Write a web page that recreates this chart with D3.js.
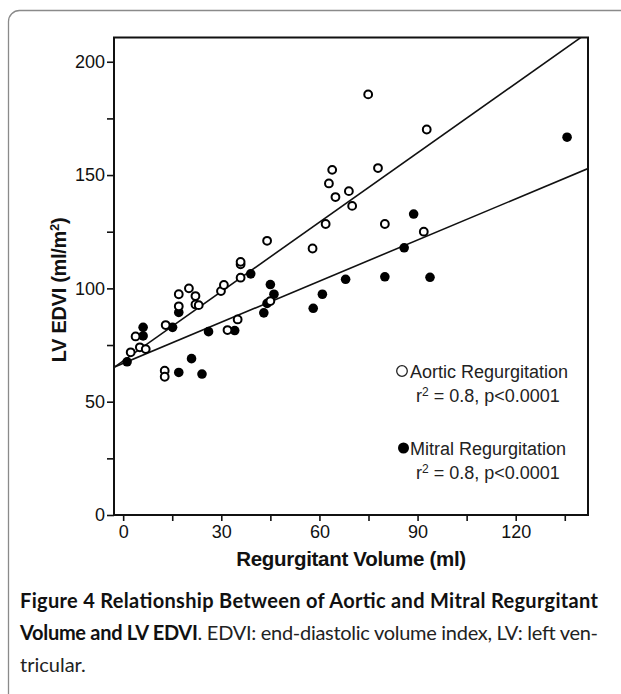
<!DOCTYPE html>
<html><head><meta charset="utf-8">
<script src="https://cdn.jsdelivr.net/npm/d3@7"></script>
<style>
html,body{margin:0;padding:0;background:#fff;}
svg{display:block;}
</style></head>
<body>
<script>
// ---- data ----
const aorticX = [2.3,3.8,5.1,6.9,12.7,12.7,13.0,17.0,17.0,20.1,22.1,22.1,23.1,29.9,30.8,31.9,35.0,35.9,35.9,35.9,44.0,45.0,57.9,61.9,62.9,63.9,64.9,69.0,70.0,74.9,77.9,80.0,91.9,92.8];
const aorticY = [71.8,78.8,74.0,73.2,63.7,61.0,83.8,97.4,92.1,100.0,96.6,92.9,92.6,98.8,101.5,81.6,86.3,104.7,110.6,111.7,121.0,94.4,117.6,128.4,146.3,152.3,140.3,142.9,136.4,185.6,153.1,128.4,125.0,170.1];
const mitralX = [1.2,6.1,6.1,15.1,17.0,17.0,20.9,24.1,26.1,34.1,39.0,43.0,44.0,45.0,46.1,58.1,60.9,68.0,80.0,85.9,88.8,93.8,135.7];
const mitralY = [67.6,82.8,79.0,82.8,89.4,62.9,69.0,62.2,80.9,81.4,106.4,89.2,93.4,101.7,97.4,91.2,97.4,104.0,105.1,117.9,132.8,104.9,166.7];
const fitNames = ["Aortic","Mitral"];
const fitIntercept = [68.0, 66.9];
const fitSlope = [1.02, 0.605];
const xTicks = [0,15,30,45,60,75,90,105,120,135];
const xTickLabels = ["0","","30","","60","","90","","120",""];
const yTicks = [0,25,50,75,100,125,150,175,200];
const yTickLabels = ["0","","50","","100","","150","","200"];
const xDomain = [-2.8, 142.1];
const yDomain = [0, 210.7];
const legendLabels = ["Aortic Regurgitation","Mitral Regurgitation"];
const legendStats = ["r\u00B2 = 0.8, p<0.0001","r\u00B2 = 0.8, p<0.0001"];

const W = 621, H = 694;
const svg = d3.select("body").append("svg").attr("width", W).attr("height", H);

// card border
svg.append("rect").attr("x", 8.5).attr("y", 10.5).attr("width", 700).attr("height", 760)
  .attr("rx", 11).attr("fill", "none").attr("stroke", "#8a8a8a").attr("stroke-width", 1.3);

const L = 114, R = 588, T = 37.5, B = 515;
const x = d3.scaleLinear().domain(xDomain).range([L, R]);
const y = d3.scaleLinear().domain(yDomain).range([B, T]);

const font = "'Liberation Sans', Arial, sans-serif";

// clip
svg.append("clipPath").attr("id","plotclip").append("rect")
  .attr("x", L).attr("y", T).attr("width", R-L).attr("height", B-T);

// regression lines
const fitG = svg.append("g").attr("clip-path","url(#plotclip)");
fitNames.forEach((n,i)=>{
  const x0 = xDomain[0], x1 = xDomain[1];
  fitG.append("line")
    .attr("x1", x(x0)).attr("y1", y(fitIntercept[i] + fitSlope[i]*x0))
    .attr("x2", x(x1)).attr("y2", y(fitIntercept[i] + fitSlope[i]*x1))
    .attr("stroke", "#111").attr("stroke-width", 1.6);
});

// points
const aortic = aorticX.map((v,i)=>({x:v, y:aorticY[i]}));
const mitral = mitralX.map((v,i)=>({x:v, y:mitralY[i]}));
svg.append("g").selectAll("circle").data(mitral).join("circle")
  .attr("cx", d=>x(d.x)).attr("cy", d=>y(d.y)).attr("r", 4.8).attr("fill", "#000");
svg.append("g").selectAll("circle").data(aortic).join("circle")
  .attr("cx", d=>x(d.x)).attr("cy", d=>y(d.y)).attr("r", 3.9)
  .attr("fill", "#fff").attr("stroke", "#000").attr("stroke-width", 2);

// frame
svg.append("rect").attr("x", L).attr("y", T).attr("width", R-L).attr("height", B-T)
  .attr("fill","none").attr("stroke","#111").attr("stroke-width",2);

// axes
const xAxis = d3.axisBottom(x).tickValues(xTicks).tickSize(6).tickPadding(4)
  .tickFormat((d,i)=>xTickLabels[i]);
const gx = svg.append("g").attr("transform", `translate(0,${B})`).call(xAxis);
gx.select(".domain").remove();
gx.selectAll(".tick line").attr("stroke","#111").attr("stroke-width",1.6);
gx.selectAll(".tick text").attr("font-family", font).attr("font-size", 18).attr("fill","#111");

const yAxis = d3.axisLeft(y).tickValues(yTicks).tickSize(7).tickPadding(2)
  .tickFormat((d,i)=>yTickLabels[i]);
const gy = svg.append("g").attr("transform", `translate(${L},0)`).call(yAxis);
gy.select(".domain").remove();
gy.selectAll(".tick line").attr("stroke","#111").attr("stroke-width",1.6);
gy.selectAll(".tick text").attr("font-family", font).attr("font-size", 18).attr("fill","#111");

// axis titles
svg.append("text").attr("x", 351).attr("y", 566).attr("text-anchor","middle")
  .attr("font-family", font).attr("font-weight","bold").attr("font-size", 20.5)
  .attr("letter-spacing", -0.3).attr("fill","#111")
  .text("Regurgitant Volume (ml)");

const yt = svg.append("text").attr("transform","translate(66,290) rotate(-90)")
  .attr("text-anchor","middle").attr("font-family", font).attr("font-weight","bold")
  .attr("font-size", 20).attr("letter-spacing", -0.3).attr("fill","#111");
yt.append("tspan").text("LV EDVI (ml/m");
yt.append("tspan").attr("font-size", 13).attr("dy", -7).text("2");
yt.append("tspan").attr("dy", 7).text(")");

// legend
const legY = [371, 448];
legendLabels.forEach((lab,i)=>{
  if (i===0) {
    svg.append("circle").attr("cx", 402).attr("cy", legY[i]).attr("r", 5.3)
      .attr("fill","#fff").attr("stroke","#222").attr("stroke-width",1.3);
  } else {
    svg.append("circle").attr("cx", 403.5).attr("cy", legY[i]).attr("r", 5.5).attr("fill","#000");
  }
  svg.append("text").attr("x", 410).attr("y", legY[i]+6.5).attr("font-family", font)
    .attr("font-size", 18).attr("fill","#222").text(lab);
  const st = svg.append("text").attr("x", 416).attr("y", legY[i]+30.5).attr("font-family", font)
    .attr("font-size", 18).attr("fill","#222");
  st.append("tspan").text("r");
  st.append("tspan").attr("font-size", 12).attr("dy", -6).text("2");
  st.append("tspan").attr("dy", 6).text(" = 0.8, p<0.0001");
});

// caption
const capFont = "Lato, 'Open Sans', sans-serif";
const c1 = svg.append("text").attr("x", 20).attr("y", 608).attr("font-family", capFont)
  .attr("font-size", 20).attr("fill","#111").attr("textLength", 578).attr("lengthAdjust","spacing");
c1.append("tspan").attr("font-weight","bold").text("Figure 4 Relationship Between of Aortic and Mitral Regurgitant");
const c2 = svg.append("text").attr("x", 20).attr("y", 640).attr("font-family", capFont)
  .attr("font-size", 20).attr("fill","#222").attr("textLength", 578).attr("lengthAdjust","spacing");
c2.append("tspan").attr("font-weight","bold").attr("fill","#111").text("Volume and LV EDVI");
c2.append("tspan").text(". EDVI: end-diastolic volume index, LV: left ven-");
svg.append("text").attr("x", 20).attr("y", 672).attr("font-family", capFont)
  .attr("font-size", 20).attr("fill","#222").text("tricular.");
</script>
</body></html>
